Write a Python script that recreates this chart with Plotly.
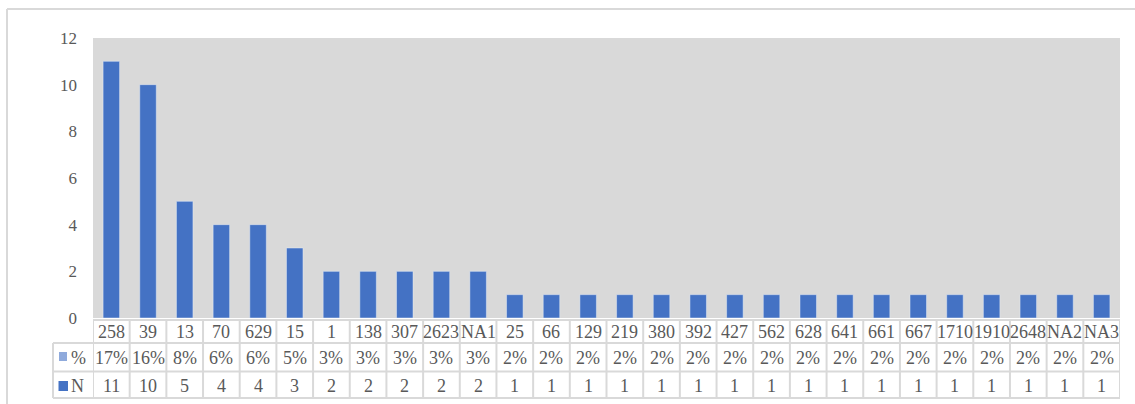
import plotly.graph_objects as go

# Codes, counts and shares
codes = ["258", "39", "13", "70", "629", "15", "1", "138", "307", "2623", "NA1",
         "25", "66", "129", "219", "380", "392", "427", "562", "628", "641",
         "661", "667", "1710", "1910", "2648", "NA2", "NA3"]
counts = [11, 10, 5, 4, 4, 3, 2, 2, 2, 2, 2,
          1, 1, 1, 1, 1, 1, 1, 1, 1, 1, 1, 1, 1, 1, 1, 1, 1]
shares = ["17%", "16%", "8%", "6%", "6%", "5%", "3%", "3%", "3%", "3%", "3%",
          "2%", "2%", "2%", "2%", "2%", "2%", "2%", "2%", "2%", "2%",
          "2%", "2%", "2%", "2%", "2%", "2%", "2%"]
y_ticks = [0, 2, 4, 6, 8, 10, 12]

W, H = 1135, 404
ML, MR, MT, MB = 93, 15, 38, 86
PW, PH = W - ML - MR, H - MT - MB

TXT = "#595959"
GRID = "#d9d9d9"
BAR = "#4472c4"
FONT = "'Liberation Serif', 'Times New Roman', serif"
TABLE_SIZE = 18


def px(xp):
    return (xp - ML) / PW


def py(yp):
    return (H - MB - yp) / PH


fig = go.Figure()
fig.add_trace(go.Bar(x=codes, y=counts, marker_color=BAR, width=0.45,
                     name="N", showlegend=False))

shapes = []
annotations = []

# chart outer frame (top and left edges)
shapes.append(dict(type="line", xref="paper", yref="paper", x0=px(7), x1=px(W + 5),
                   y0=py(9), y1=py(9), line=dict(color=GRID, width=2)))
shapes.append(dict(type="line", xref="paper", yref="paper", x0=px(7), x1=px(7),
                   y0=py(9), y1=py(H + 5), line=dict(color=GRID, width=2)))

# data table grid
row_top, row1, row2, row_bot = 320, 343, 371.5, 398
shapes.append(dict(type="line", xref="paper", yref="paper", x0=0, x1=1,
                   y0=py(row_top), y1=py(row_top), line=dict(color=GRID, width=2)))
for yl in (row1, row2, row_bot):
    shapes.append(dict(type="line", xref="paper", yref="paper", x0=px(53), x1=1,
                       y0=py(yl), y1=py(yl), line=dict(color=GRID, width=2)))
shapes.append(dict(type="line", xref="paper", yref="paper", x0=px(53), x1=px(53),
                   y0=py(row1), y1=py(row_bot), line=dict(color=GRID, width=2)))
for k in range(len(codes) + 1):
    shapes.append(dict(type="line", xref="x", yref="paper", x0=k - 0.5, x1=k - 0.5,
                       y0=py(row_top), y1=py(row_bot), line=dict(color=GRID, width=2)))

# legend keys in the table header column
shapes.append(dict(type="rect", xref="paper", yref="paper", x0=px(59), x1=px(67),
                   y0=py(361), y1=py(352), fillcolor="#8faadc", line=dict(width=0)))
shapes.append(dict(type="rect", xref="paper", yref="paper", x0=px(58.5), x1=px(68),
                   y0=py(391), y1=py(381), fillcolor=BAR, line=dict(width=0)))
annotations.append(dict(xref="paper", yref="paper", x=px(68.5), y=py(357.5), text="%",
                        showarrow=False, xanchor="left", yanchor="middle",
                        font=dict(family=FONT, size=TABLE_SIZE, color=TXT)))
annotations.append(dict(xref="paper", yref="paper", x=px(68.5), y=py(386), text="N",
                        showarrow=False, xanchor="left", yanchor="middle",
                        font=dict(family=FONT, size=TABLE_SIZE, color=TXT)))

for i, (c, n, s) in enumerate(zip(codes, counts, shares)):
    for txt, yy in ((c, 332), (s, 357.5), (str(n), 385.5)):
        annotations.append(dict(xref="x", yref="paper", x=i, y=py(yy), text=txt,
                                showarrow=False, xanchor="center", yanchor="middle",
                                font=dict(family=FONT, size=TABLE_SIZE, color=TXT)))

fig.update_layout(
    width=W, height=H,
    margin=dict(l=ML, r=MR, t=MT, b=MB, pad=0),
    paper_bgcolor="white",
    plot_bgcolor=GRID,
    bargap=0.55,
    font=dict(family=FONT, size=17, color=TXT),
    shapes=shapes,
    annotations=annotations,
    xaxis=dict(type="category", range=[-0.5, len(codes) - 0.5], showticklabels=False,
               showgrid=False, zeroline=False, showline=False, ticks=""),
    yaxis=dict(range=[0, 12], tickvals=y_ticks, showgrid=False, zeroline=False,
               showline=False, ticks="", ticklabelstandoff=15,
               tickfont=dict(family=FONT, size=17, color=TXT)),
)

fig.write_html("out.html")
